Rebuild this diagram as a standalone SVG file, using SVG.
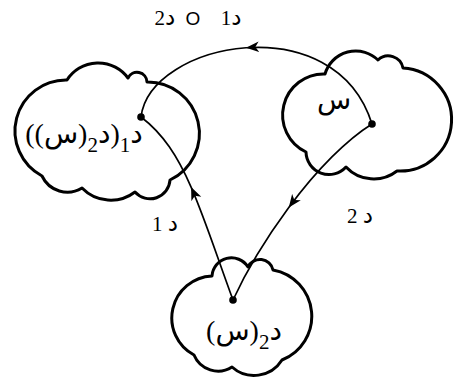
<svg xmlns="http://www.w3.org/2000/svg" width="467" height="378" viewBox="0 0 467 378">
  <style>
    .cloud { fill: #fff; stroke: #000; stroke-width: 3; stroke-linejoin: round; }
    .edge { fill: none; stroke: #000; stroke-width: 1.7; }
    .dot { fill: #000; }
    .lbl { font-family: "Liberation Serif", "DejaVu Sans", serif; fill: #000; direction: rtl; }
    .big { font-size: 28px; }
    .small { font-size: 21px; }
    .sub { font-size: 21px; }
    .ar { font-size: 23px; }
    .ring { font-family: "Liberation Sans", sans-serif; font-size: 19px; }
  </style>
  <defs>
    <marker id="arrow" markerUnits="userSpaceOnUse" viewBox="0 0 16 12" markerWidth="16" markerHeight="12" refX="13" refY="6" orient="auto">
      <path d="M13 6 L0 0.6 L3.6 6 L0 11.4 Z" fill="#000"/>
    </marker>
  </defs>

  <!-- sets drawn as clouds -->
  <g id="node-left">
    <path class="cloud" d="M 42 176 A 51 51 0 0 1 67 80 A 37 37 0 0 1 128 78 A 10 10 0 0 1 147 82 A 51.5 51.5 0 0 1 170 180 A 20 20 0 0 1 135 192 A 40 40 0 0 1 82 188 A 28 28 0 0 1 42 176 Z"/>
    <text class="lbl big" x="84" y="143" text-anchor="middle">د<tspan class="sub" baseline-shift="-9">1</tspan>(د<tspan class="sub" baseline-shift="-9">2</tspan>(س))</text>
  </g>

  <g id="node-right">
    <path class="cloud" d="M 306 152 A 41 41 0 0 1 325 74 A 32 32 0 0 1 378 60 A 15 15 0 0 1 403 68 A 51 51 0 0 1 397 171 A 38 38 0 0 1 346 167 A 23 23 0 0 1 306 152 Z"/>
    <text class="lbl big" x="334" y="109" text-anchor="middle">س</text>
  </g>

  <g id="node-bottom">
    <path class="cloud" d="M 194 355 A 42 42 0 0 1 212 276 A 19.5 19.5 0 0 1 248 267 A 13.3 13.3 0 0 1 273 270 A 47 47 0 0 1 282 360 A 33 33 0 0 1 232 367 A 26 26 0 0 1 194 355 Z"/>
    <text class="lbl big" x="244" y="340" text-anchor="middle">د<tspan class="sub" baseline-shift="-9">2</tspan>(س)</text>
  </g>

  <!-- mappings between the sets -->
  <g id="connectors">
    <path class="edge" marker-mid="url(#arrow)" d="M 372 124 C 353.5 64.5, 298 44, 246 47.75 C 194 51.5, 145.5 79.5, 141 117"/>
    <path class="edge" marker-mid="url(#arrow)" d="M 233 300 C 216.5 255, 204.5 217.5, 191.1 187.1 C 177.75 156.75, 163 133.5, 141 117"/>
    <path class="edge" marker-mid="url(#arrow)" d="M 372 124 C 347.64 139.08, 317.25 168.96, 288.77 207.59 C 268.14 235.57, 248.54 266.4, 233 300"/>
    <circle class="dot" cx="141" cy="117" r="3.8"/>
    <circle class="dot" cx="372" cy="124" r="3.8"/>
    <circle class="dot" cx="233" cy="300" r="3.8"/>
  </g>

  <!-- labels of the mappings -->
  <text class="lbl small" x="198" y="25" text-anchor="middle" style="white-space:pre" word-spacing="5"><tspan class="ar">د</tspan>1  <tspan class="ring">O</tspan> <tspan class="ar">د</tspan>2</text>
  <text class="lbl small" x="165" y="231" text-anchor="middle"><tspan class="ar">د</tspan> 1</text>
  <text class="lbl small" x="360" y="223" text-anchor="middle"><tspan class="ar">د</tspan> 2</text>
</svg>
